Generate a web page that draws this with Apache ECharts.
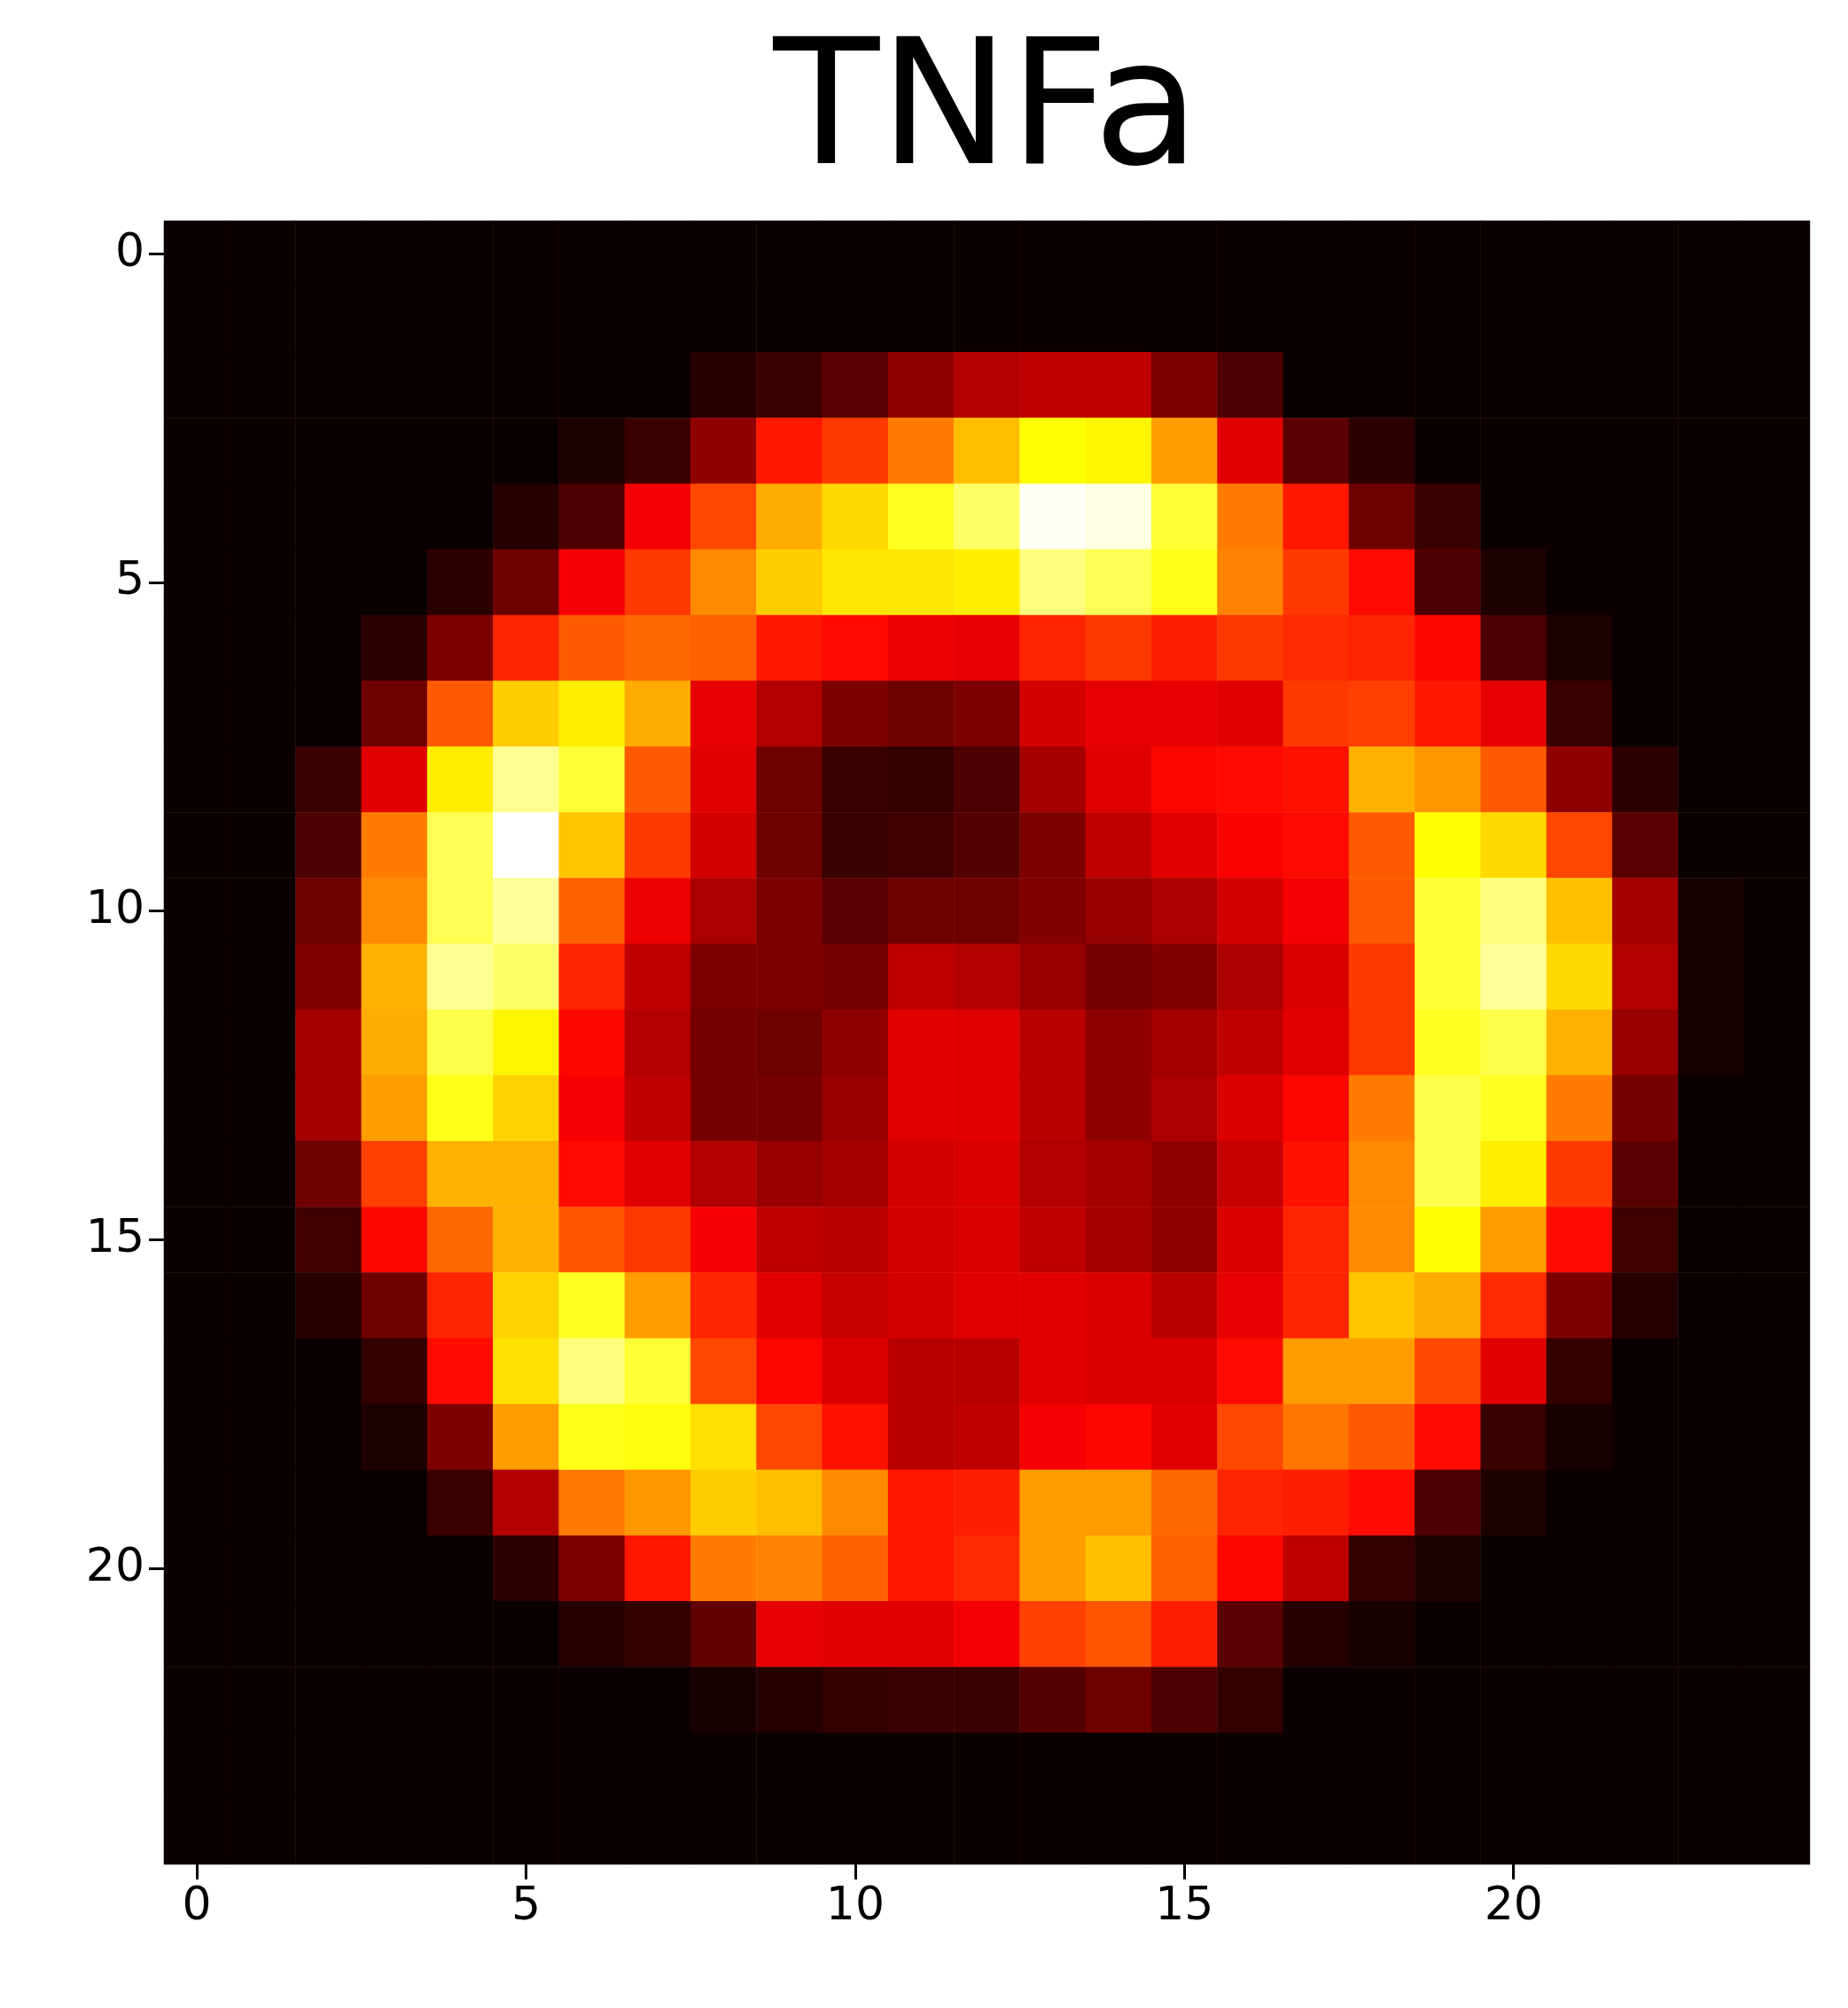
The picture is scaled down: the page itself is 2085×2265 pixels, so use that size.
<!DOCTYPE html>
<html>
<head>
<meta charset="utf-8">
<script src="https://cdn.jsdelivr.net/npm/echarts@6/dist/echarts.min.js"></script>
<style>html,body{margin:0;padding:0;background:#fff}#chart{width:2085px;height:2265px}</style>
</head>
<body>
<div id="chart"></div>
<script>
var titleText = 'TNFa';
var xLabels = [];
var yLabels = [];
for (var i = 0; i < 25; i++) { xLabels.push(String(i)); yLabels.push(String(i)); }

// row r = image row (top to bottom), columns 0..24
var z = 0;
var grid = [
  [0,0,0,0,0,0,0,0,0,0,0,0,0,0,0,0,0,0,0,0,0,0,0,0,0],
  [0,0,0,0,0,0,0,0,0,0,0,0,0,0,0,0,0,0,0,0,0,0,0,0,0],
  [0,0,0,0,0,0,0,0,0.04,0.07,0.12,0.2,0.25,0.27,0.27,0.17,0.1,0,0,0,0,0,0,0,0],
  [0,0,0,0,0,0,0.03,0.07,0.2,0.4,0.45,0.55,0.65,0.75,0.73,0.6,0.32,0.12,0.05,0,0,0,0,0,0],
  [0,0,0,0,0,0.04,0.1,0.35,0.47,0.62,0.69,0.78,0.85,0.99,0.97,0.8,0.55,0.4,0.15,0.07,0,0,0,0,0],
  [0,0,0,0,0.05,0.15,0.35,0.45,0.57,0.67,0.71,0.71,0.72,0.87,0.83,0.77,0.56,0.45,0.38,0.1,0.03,0,0,0,0],
  [0,0,0,0.05,0.17,0.42,0.5,0.52,0.51,0.4,0.38,0.34,0.33,0.42,0.45,0.41,0.45,0.43,0.42,0.37,0.1,0.03,0,0,0],
  [0,0,0,0.15,0.5,0.67,0.72,0.62,0.33,0.25,0.17,0.15,0.17,0.3,0.33,0.33,0.32,0.45,0.46,0.4,0.33,0.07,0,0,0],
  [0,0,0.07,0.32,0.72,0.89,0.8,0.5,0.32,0.15,0.07,0.06,0.1,0.23,0.32,0.37,0.38,0.39,0.63,0.59,0.5,0.2,0.05,0,0],
  [0,0,0.1,0.55,0.83,1.0,0.66,0.45,0.3,0.15,0.07,0.08,0.11,0.17,0.27,0.32,0.36,0.38,0.5,0.75,0.69,0.47,0.12,0,0],
  [0,0,0.15,0.57,0.83,0.9,0.51,0.34,0.24,0.17,0.12,0.15,0.15,0.18,0.21,0.24,0.3,0.35,0.5,0.8,0.87,0.65,0.23,0.02,0],
  [0,0,0.18,0.63,0.89,0.85,0.42,0.27,0.17,0.17,0.16,0.27,0.25,0.21,0.16,0.18,0.24,0.31,0.45,0.8,0.9,0.69,0.25,0.02,0],
  [0,0,0.23,0.62,0.82,0.73,0.37,0.25,0.16,0.15,0.2,0.32,0.32,0.26,0.2,0.23,0.27,0.32,0.45,0.78,0.82,0.63,0.21,0.02,0],
  [0,0,0.23,0.6,0.77,0.68,0.35,0.27,0.16,0.16,0.21,0.32,0.32,0.26,0.2,0.24,0.31,0.37,0.55,0.82,0.78,0.55,0.16,0,0],
  [0,0,0.15,0.46,0.63,0.63,0.38,0.32,0.25,0.21,0.23,0.3,0.31,0.25,0.23,0.2,0.28,0.39,0.57,0.82,0.72,0.45,0.12,0,0],
  [0,0,0.08,0.37,0.52,0.63,0.49,0.45,0.35,0.27,0.26,0.3,0.31,0.27,0.23,0.2,0.31,0.42,0.57,0.75,0.6,0.38,0.08,0,0],
  [0,0,0.04,0.15,0.42,0.68,0.78,0.6,0.42,0.32,0.28,0.3,0.32,0.32,0.31,0.26,0.33,0.42,0.66,0.62,0.43,0.17,0.04,0,0],
  [0,0,0,0.06,0.38,0.7,0.87,0.8,0.47,0.37,0.31,0.26,0.26,0.32,0.31,0.31,0.38,0.6,0.6,0.47,0.32,0.06,0,0,0],
  [0,0,0,0.03,0.17,0.6,0.77,0.76,0.7,0.47,0.39,0.26,0.27,0.35,0.37,0.32,0.47,0.54,0.5,0.38,0.07,0.02,0,0,0],
  [0,0,0,0,0.07,0.25,0.55,0.59,0.67,0.65,0.57,0.4,0.41,0.6,0.6,0.52,0.42,0.41,0.38,0.1,0.03,0,0,0,0],
  [0,0,0,0,0,0.05,0.17,0.4,0.55,0.56,0.51,0.4,0.43,0.6,0.65,0.51,0.37,0.27,0.06,0.03,0,0,0,0,0],
  [0,0,0,0,0,0,0.04,0.06,0.13,0.33,0.32,0.32,0.35,0.46,0.49,0.41,0.12,0.04,0.02,0,0,0,0,0,0],
  [0,0,0,0,0,0,0,0,0.02,0.04,0.06,0.07,0.07,0.11,0.15,0.1,0.06,0,0,0,0,0,0,0,0],
  [0,0,0,0,0,0,0,0,0,0,0,0,0,0,0,0,0,0,0,0,0,0,0,0,0],
  [0,0,0,0,0,0,0,0,0,0,0,0,0,0,0,0,0,0,0,0,0,0,0,0,0]
];

// matplotlib 'hot' colormap stops
function hot(v) {
  var r = Math.min(1, 0.0416 + v / 0.365 * 0.9584);
  var g = Math.max(0, Math.min(1, (v - 0.365) / 0.381));
  var b = Math.max(0, Math.min(1, (v - 0.746) / 0.254));
  return 'rgb(' + Math.round(r * 255) + ',' + Math.round(g * 255) + ',' + Math.round(b * 255) + ')';
}
var hotColors = [];
for (var k = 0; k <= 40; k++) hotColors.push(hot(k / 40));

var data = [];
grid.forEach(function (row, r) {
  row.forEach(function (v, c) { data.push([c, r, v]); });
});

var every5 = function (idx) { return idx % 5 === 0; };
var chart = echarts.init(document.getElementById('chart'));
chart.setOption({
  backgroundColor: '#fff',
  animation: false,
  title: {
    text: titleText, left: 1108, top: 30, textAlign: 'center',
    textStyle: { fontFamily: 'DejaVu Sans', fontSize: 196, fontWeight: 'normal', color: '#000' }
  },
  grid: { left: 185, right: 43, top: 249, bottom: 162 },
  xAxis: {
    type: 'category', data: xLabels, position: 'bottom',
    axisLine: { show: false },
    axisTick: { show: true, alignWithLabel: true, interval: every5, length: 17, lineStyle: { color: '#000', width: 3 } },
    axisLabel: { interval: every5, fontFamily: 'DejaVu Sans', fontSize: 52, color: '#000', margin: 22 },
    splitLine: { show: false }
  },
  yAxis: {
    type: 'category', data: yLabels, inverse: true,
    axisLine: { show: false },
    axisTick: { show: true, alignWithLabel: true, interval: every5, length: 17, lineStyle: { color: '#000', width: 3 } },
    axisLabel: { interval: every5, fontFamily: 'DejaVu Sans', fontSize: 52, color: '#000', margin: 22 },
    splitLine: { show: false }
  },
  visualMap: { show: false, min: 0, max: 1, dimension: 2, inRange: { color: hotColors } },
  series: [{ type: 'heatmap', data: data, itemStyle: { borderWidth: 0 } }]
});
</script>
</body>
</html>
